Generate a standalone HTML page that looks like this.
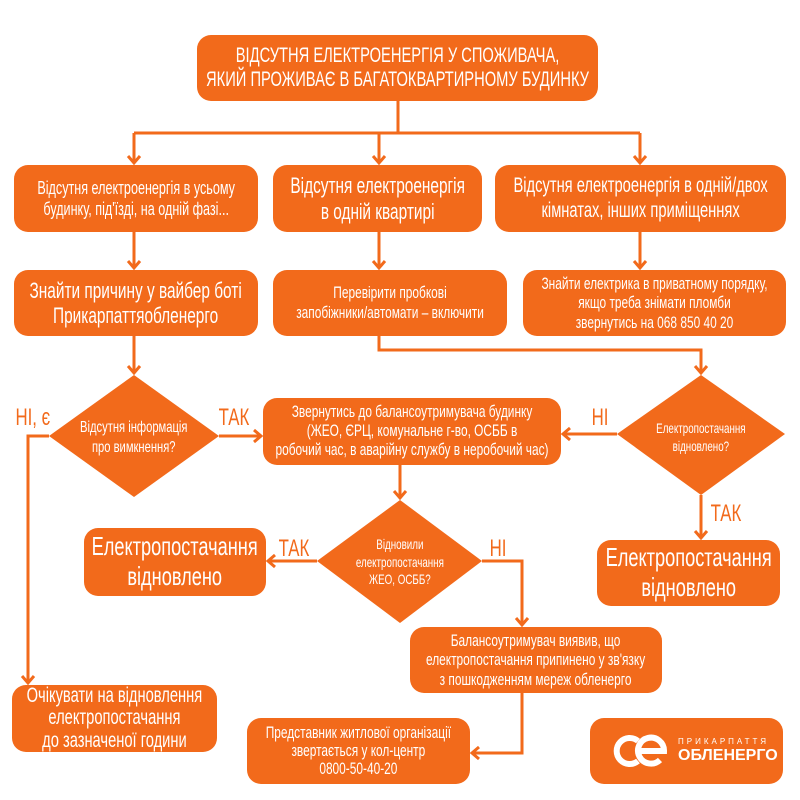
<!DOCTYPE html>
<html><head><meta charset="utf-8"><style>
body{margin:0;width:800px;height:800px;background:#fff;position:relative;overflow:hidden;font-family:"Liberation Sans",sans-serif;}
.b{position:absolute;background:#f26a1b;border-radius:14px;color:#fff;display:flex;align-items:center;justify-content:center;text-align:center;line-height:1.15;box-sizing:border-box;}
.b>span,.d>span,.l>span{display:inline-block;white-space:nowrap;transform:scaleX(0.7);}
.l{position:absolute;color:#f26a1b;font-size:24px;}
.d{position:absolute;color:#fff;text-align:center;font-size:14px;line-height:1.25;}
svg{position:absolute;left:0;top:0}
</style></head><body>
<svg width="800" height="800" viewBox="0 0 800 800">
<g fill="#f26a1b">
<polygon points="134,375 219,436 134,497 49,436"/>
<polygon points="701,375 785,434 701,495 617,434"/>
<polygon points="400,500 482,561 400,623 317,561"/>
</g>
<g stroke="#f26a1b" stroke-width="3" fill="none">
<path d="M398,100V133M134,133H640M134,133V162M379,133V162M640,133V162"/>
<path d="M134,232V267M379,232V267M640,232V267"/>
<path d="M134,336V372"/>
<path d="M379,336V350H701V372"/>
<path d="M219,436H260"/>
<path d="M617,434H564"/>
<path d="M701,495V537"/>
<path d="M49,436H28V682"/>
<path d="M400,465V497"/>
<path d="M317,561H269"/>
<path d="M482,561H522V624"/>
<path d="M522,692V753H473"/>
<path d="M128,156L134,163L140,156M373,156L379,163L385,156M634,156L640,163L646,156"/>
<path d="M128,261L134,268L140,261M373,261L379,268L385,261M634,261L640,268L646,261"/>
<path d="M128,366L134,373L140,366M695,366L701,373L707,366"/>
<path d="M254,430L261,436L254,442M570,428L563,434L570,440"/>
<path d="M695,531L701,538L707,531M22,676L28,683L34,676"/>
<path d="M394,491L400,498L406,491M275,555L268,561L275,567M516,618L522,625L528,618M479,747L472,753L479,759"/>
</g>
</svg>
<div class="b" style="left:197px;top:35px;width:401px;height:66px;font-size:21px;"><span>ВІДСУТНЯ ЕЛЕКТРОЕНЕРГІЯ У СПОЖИВАЧА,<br>ЯКИЙ ПРОЖИВАЄ В БАГАТОКВАРТИРНОМУ БУДИНКУ</span></div>
<div class="b" style="left:14px;top:165px;width:244px;height:67px;font-size:18px;"><span>Відсутня електроенергія в усьому<br>будинку, під'їзді, на одній фазі...</span></div>
<div class="b" style="left:273px;top:165px;width:209px;height:67px;font-size:22px;"><span>Відсутня електроенергія<br>в одній квартирі</span></div>
<div class="b" style="left:495px;top:165px;width:291px;height:67px;font-size:21px;"><span>Відсутня електроенергія в одній/двох<br>кімнатах, інших приміщеннях</span></div>
<div class="b" style="left:14px;top:270px;width:244px;height:66px;font-size:22px;"><span>Знайти причину у вайбер боті<br>Прикарпаттяобленерго</span></div>
<div class="b" style="left:273px;top:270px;width:234px;height:66px;font-size:17px;"><span>Перевірити пробкові<br>запобіжники/автомати – включити</span></div>
<div class="b" style="left:523px;top:270px;width:263px;height:66px;font-size:17px;"><span>Знайти електрика в приватному порядку,<br>якщо треба знімати пломби<br>звернутись на 068 850 40 20</span></div>
<div class="b" style="left:263px;top:398px;width:298px;height:67px;font-size:17px;line-height:1.1;"><span>Звернутись до балансоутримувача будинку<br>(ЖЕО, ЄРЦ, комунальне г-во, ОСББ в<br>робочий час, в аварійну службу в неробочий час)</span></div>
<div class="b" style="left:597px;top:540px;width:183px;height:66px;font-size:26px;"><span>Електропостачання<br>відновлено</span></div>
<div class="b" style="left:84px;top:528px;width:182px;height:68px;font-size:26px;"><span>Електропостачання<br>відновлено</span></div>
<div class="b" style="left:410px;top:627px;width:252px;height:66px;font-size:17px;"><span>Балансоутримувач виявив, що<br>електропостачання припинено у зв'язку<br>з пошкодженням мереж обленерго</span></div>
<div class="b" style="left:12px;top:685px;width:205px;height:67px;font-size:21px;line-height:1.05;"><span>Очікувати на відновлення<br>електропостачання<br>до зазначеної години</span></div>
<div class="b" style="left:247px;top:718px;width:223px;height:66px;font-size:17px;line-height:1.05;"><span>Представник житлової організації<br>звертається у кол-центр<br>0800-50-40-20</span></div>
<div class="b" style="left:590px;top:718px;width:193px;height:66px;justify-content:flex-start;padding-left:18px;">
<svg style="position:static" width="62" height="36" viewBox="0 0 62 36"><g fill="none" stroke="#fff" stroke-width="6"><path d="M30,8A13,13 0 1 0 30,28"/><path d="M32,18H56A13,13 0 1 0 52,27"/></g></svg>
<div style="margin-left:8px;text-align:left;line-height:1.1"><div style="font-size:8px;letter-spacing:3px;">ПРИКАРПАТТЯ</div><div style="font-size:16px;font-weight:bold;">ОБЛЕНЕРГО</div></div></div>
<div class="d" style="left:44px;top:418px;width:180px;font-size:16px;"><span>Відсутня інформація<br>про вимкнення?</span></div>
<div class="d" style="left:621px;top:420px;width:160px;"><span>Електропостачання<br>відновлено?</span></div>
<div class="d" style="left:320px;top:536px;width:160px;"><span>Відновили<br>електропостачання<br>ЖЕО, ОСББ?</span></div>
<div class="l" style="left:8px;top:404px;"><span>НІ, є</span></div>
<div class="l" style="left:212px;top:404px;"><span>ТАК</span></div>
<div class="l" style="left:588px;top:404px;"><span>НІ</span></div>
<div class="l" style="left:704px;top:500px;"><span>ТАК</span></div>
<div class="l" style="left:272px;top:535px;"><span>ТАК</span></div>
<div class="l" style="left:486px;top:535px;"><span>НІ</span></div>
</body></html>
